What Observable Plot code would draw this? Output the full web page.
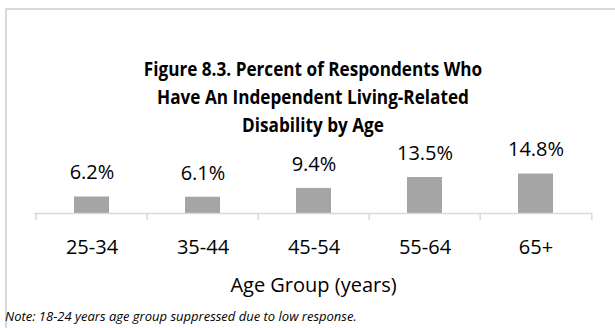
<!DOCTYPE html>
<html>
<head>
<meta charset="utf-8">
<script src="https://cdn.jsdelivr.net/npm/d3@7"></script>
<script src="https://cdn.jsdelivr.net/npm/@observablehq/plot@0.6"></script>
<style>
  html, body { margin: 0; padding: 0; background: #fff; }
  body { width: 615px; height: 328px; overflow: hidden; position: relative; font-family: "Open Sans", sans-serif; }
  #frame { position: absolute; left: 5px; top: 8px; width: 640px; height: 360px;
           border-left: 2px solid #d9d9d9; border-top: 2px solid #d9d9d9; box-sizing: border-box; }
  #title { position: absolute; left: 13px; width: 600px; top: 55px; text-align: center;
           font-weight: bold; font-size: 19.5px; line-height: 28px; color: #000;
           transform: scaleX(0.88); transform-origin: 300px 0; }
  #chart { position: absolute; left: 0; top: 130px; }
  #note { position: absolute; left: 5px; top: 307px; font-style: italic; font-size: 13px; color: #000; white-space: nowrap; }
</style>
</head>
<body>
<div id="frame"></div>
<div id="title">Figure 8.3. Percent of Respondents Who<br>Have An Independent Living-Related<br>Disability by Age</div>
<div id="chart"></div>
<div id="note">Note: 18-24 years age group suppressed due to low response.</div>
<script>
// Percent of respondents with an independent living-related disability, by age group
const ageGroups = ["25-34", "35-44", "45-54", "55-64", "65+"];
const percents = [6.2, 6.1, 9.4, 13.5, 14.8];
const axisTitle = "Age Group (years)";

const rows = ageGroups.map((g, i) => ({group: g, pct: percents[i]}));

const width = 615;
const marginLeft = 34;
const marginRight = 23;
const step = (width - marginLeft - marginRight) / ageGroups.length;

const chart = Plot.plot({
  width,
  height: 170,
  marginLeft,
  marginRight,
  marginTop: 43,
  marginBottom: 87,
  style: {fontFamily: "'Open Sans', sans-serif", color: "#000", background: "transparent", overflow: "visible"},
  x: {type: "band", domain: ageGroups, padding: 0, label: null},
  y: {domain: [0, 15], axis: null},
  marks: [
    Plot.barY(rows, {x: "group", y: "pct", fill: "#a5a5a5", insetLeft: 38, insetRight: 38}),
    Plot.ruleY([0], {stroke: "#d9d9d9", strokeWidth: 1.5}),
    // category separators: one at the start of each band, plus the closing one
    Plot.axisX({tickSize: 7, dx: -step / 2, tickFormat: () => "", label: null, stroke: "#d9d9d9", strokeWidth: 1.5}),
    Plot.axisX([ageGroups[ageGroups.length - 1]], {tickSize: 7, dx: step / 2, tickFormat: () => "", label: null, stroke: "#d9d9d9", strokeWidth: 1.5}),
    Plot.axisX({tickSize: 0, tickPadding: 34, fontSize: 20, label: null, fill: "#000", lineAnchor: "middle"}),
    Plot.text(rows, {x: "group", y: "pct", text: d => d.pct.toFixed(1) + "%", dy: -24, fontSize: 20, fill: "#000"}),
    Plot.text([axisTitle], {frameAnchor: "bottom", dy: 78, fontSize: 20, fill: "#000"})
  ]
});
document.getElementById("chart").appendChild(chart);
</script>
</body>
</html>
